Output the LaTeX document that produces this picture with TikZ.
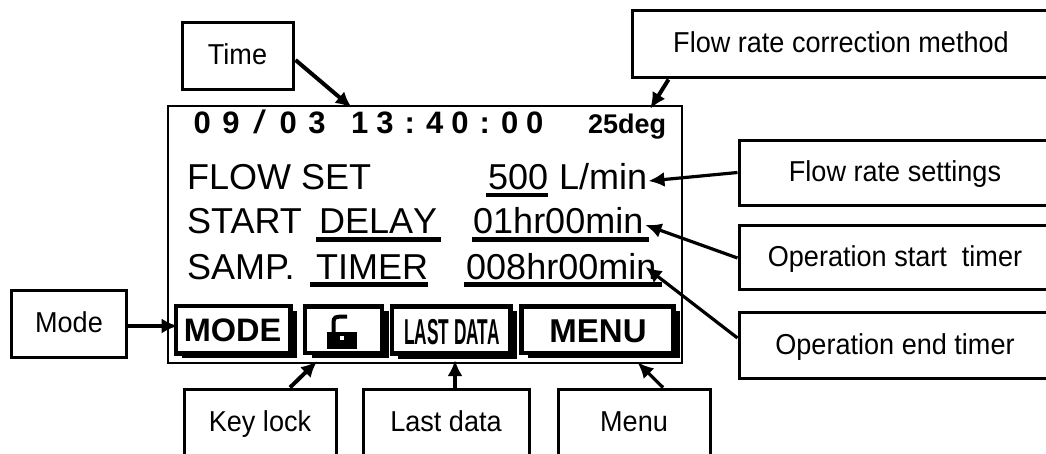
\documentclass[tikz,border=0pt]{standalone}
\usepackage{fontspec}
\setmainfont{Liberation Sans}
\newfontfamily\calloutfont[FakeStretch=0.94]{Liberation Sans}
\usetikzlibrary{arrows.meta,calc,shadows}
\newcommand{\fsz}[1]{\fontsize{#1}{#1}\selectfont}
\newcommand{\dga}[1]{\makebox[28.7pt]{#1}}
\newcommand{\dgb}[1]{\makebox[25pt]{#1}}
\newcommand{\nokern}{\addfontfeatures{Kerning=Off}}
\tikzset{
  callout/.style={draw=black,line width=3pt,fill=white,inner sep=0pt,font=\calloutfont\fsz{28.8},text height=18pt,text depth=0pt},
  screenbox/.style={draw=black,line width=2.6pt,inner sep=0pt},
  lcd/.style={inner sep=0pt,font=\fsz{36},anchor=base west},
  btn/.style={draw=black,line width=4.6pt,fill=white,inner sep=0pt,font=\bfseries\fsz{33},
    general shadow={shadow xshift=6.5pt,shadow yshift=-5pt,fill=black}},
  ptr/.style={draw=black,line width=3.2pt,-{Latex[length=16pt,width=15pt]}},
  ulbar/.style={fill=black}
}
\begin{document}
\begin{tikzpicture}[x=1pt,y=-1pt]
\useasboundingbox (0,0) rectangle (1046,453);
\begin{scope}
\clip (0,0) rectangle (1046,453);
% screen frame
\node[screenbox,minimum width=514pt,minimum height=257pt] (screen) at (425,234.5) {};
% buttons
\node[btn,minimum width=114.5pt,minimum height=47.5pt] (modebtn) at (233.2,329.7) {};
\node[btn,minimum width=77pt,minimum height=46.5pt] (lockbtn) at (343.5,329.7) {};
\node[btn,minimum width=118.5pt,minimum height=47.5pt] (lastbtn) at (451.2,330) {};
\node[btn,minimum width=151.5pt,minimum height=46.5pt] (menubtn) at (597.5,329.7) {};
\node[inner sep=0pt,font=\bfseries\fsz{32.5},anchor=base] (modetxt) at (232.5,341) {MODE};
\node[inner sep=0pt,font=\bfseries\fsz{33},anchor=base] (menutxt) at (598,342) {MENU};
\node[inner sep=0pt,font=\bfseries\fsz{36},anchor=base] (lasttxt) at (452,344) {\scalebox{0.48}[1]{LAST DATA}};
% lock icon
\fill[black] (327,332) rectangle (357,349);
\fill[white] (340,335.5) rectangle (344,340);
\draw[black,line width=4pt] (333.5,333) -- (333.5,322) .. controls (333.5,317) and (337,316.5) .. (340,316.5) -- (347,316.5);
% screen text
\node[inner sep=0pt,font=\bfseries\fsz{31},anchor=base west] (clock) at (187.7,133) {\dga{0}\dga{9}\dga{\normalfont\scalebox{1.5}[1.05]{/}}\dga{0}\dga{3}\hspace{16pt}\dgb{1}\dgb{3}\dgb{:}\dgb{4}\dgb{0}\dgb{:}\dgb{0}\dgb{0}};
\node[inner sep=0pt,font=\bfseries\fsz{27},anchor=base west] (temp) at (588,133) {25deg};
\node[lcd] (flowset) at (187,189) {\nokern FLOW SET};
\node[lcd] (flowval) at (488,189) {500};
\node[lcd] (lmin) at (559,189) {L/min};
\node[lcd] (startl) at (187,233) {START};
\node[lcd] (delay) at (319,233) {\nokern DELAY};
\node[lcd] (starttime) at (473,233) {01hr00min};
\node[lcd] (sampl) at (187,279) {SAMP.};
\node[lcd] (timer) at (316,279) {TIMER};
\node[lcd] (endtime) at (466,279) {008hr00min};
\fill[ulbar] (486,192.5) rectangle (548,197);
\fill[ulbar] (316,237) rectangle (441,241.5);
\fill[ulbar] (472,237) rectangle (649,241.5);
\fill[ulbar] (310,282) rectangle (428,286.5);
\fill[ulbar] (464,282) rectangle (662,286.5);
% callouts
\node[callout,minimum width=111pt,minimum height=67pt] (timebox) at (237.5,55.5) {Time};
\node[callout,minimum width=418pt,minimum height=67pt] (corrbox) at (841,43.5) {Flow rate correction method};
\node[callout,minimum width=312pt,minimum height=65pt] (setbox) at (895,172.5) {Flow rate settings};
\node[callout,minimum width=312pt,minimum height=64pt] (startbox) at (895,257) {Operation start\ \ timer};
\node[callout,minimum width=312pt,minimum height=66pt] (endbox) at (895,345) {Operation end timer};
\node[callout,minimum width=114.5pt,minimum height=67pt] (modebox) at (69,323.5) {Mode};
\node[callout,minimum width=152pt,minimum height=66pt] (keybox) at (260,422) {Key lock};
\node[callout,minimum width=166pt,minimum height=66pt] (lastbox) at (446,422) {Last data};
\node[callout,minimum width=152pt,minimum height=66pt] (menubox) at (634,422) {Menu};
% connectors
\draw[ptr,line width=4pt] ($(timebox.east)+(1,4.5)$) -- ($(screen.north west)+(185,3)$);
\draw[ptr,line width=4pt] ($(corrbox.south west)+(38,1)$) -- ($(screen.north east)+(-33,4)$);
\draw[ptr] (setbox.west) -- ($(lmin.base east)+(1,-8)$);
\draw[ptr] ($(startbox.west)+(0,1)$) -- ($(starttime.base east)+(2,-8)$);
\draw[ptr] ($(endbox.west)+(0,-7)$) -- ($(endtime.base east)+(-11,-12)$);
\draw[ptr] ($(modebox.east)+(0,2.5)$) -- ($(modebtn.west)+(4,-3.7)$);
\draw[ptr,line width=4pt] ($(keybox.north)+(30,0)$) -- ($(lockbtn.south)+(-26.5,6)$);
\draw[ptr] ($(lastbox.north)+(9,0)$) -- ($(lastbtn.south)+(3.8,4)$);
\draw[ptr] ($(menubox.north)+(29,0)$) -- ($(menubtn.south)+(40,7)$);
\end{scope}
\end{tikzpicture}
\end{document}
